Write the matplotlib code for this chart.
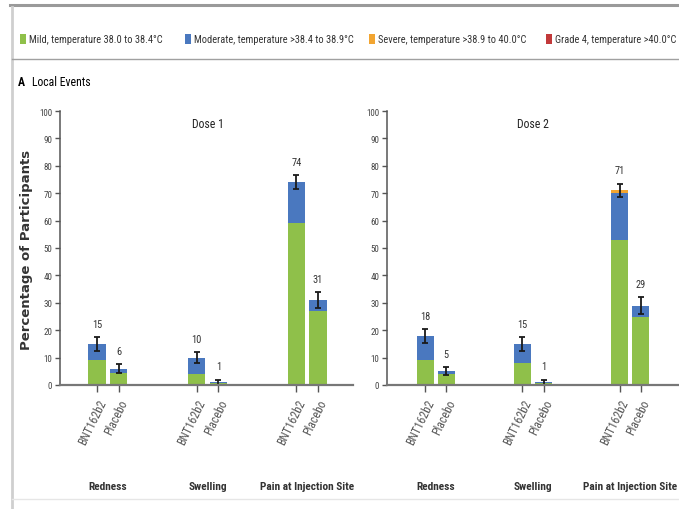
import matplotlib
matplotlib.use("Agg")
import matplotlib.pyplot as plt
from matplotlib import font_manager
from matplotlib.patches import Rectangle
from matplotlib.lines import Line2D
import numpy as np

# ---- data -------------------------------------------------------------
categories = ["Redness", "Swelling", "Pain at Injection Site"]
groups = ["BNT162b2", "Placebo"]
doses = ["Dose 1", "Dose 2"]

# order per dose: Redness (BNT, Placebo), Swelling (BNT, Placebo), Pain (BNT, Placebo)
dose1_mild = [9, 4.5, 4, 0.6, 59, 27]
dose1_moderate = [6, 1.5, 6, 0.4, 15, 4]
dose1_severe = [0, 0, 0, 0, 0, 0]
dose1_grade4 = [0, 0, 0, 0, 0, 0]
dose1_err = [2.5, 1.5, 2.0, 1.0, 2.5, 3.0]
dose1_labels = [15, 6, 10, 1, 74, 31]

dose2_mild = [9, 4, 8, 0.6, 53, 25]
dose2_moderate = [9, 1, 7, 0.4, 17, 4]
dose2_severe = [0, 0, 0, 0, 1, 0]
dose2_grade4 = [0, 0, 0, 0, 0, 0]
dose2_err = [2.5, 1.5, 2.5, 1.0, 2.5, 3.0]
dose2_labels = [18, 5, 15, 1, 71, 29]

legend_labels = [
    "Mild, temperature 38.0 to 38.4\u00b0C",
    "Moderate, temperature >38.4 to 38.9\u00b0C",
    "Severe, temperature >38.9 to 40.0\u00b0C",
    "Grade 4, temperature >40.0\u00b0C",
]
colors = ["#8fc04a", "#4a78bf", "#f2a531", "#c2393a"]


# ---- fonts: prefer a narrow sans face ---------------------------------
def pick_narrow_font():
    entries = font_manager.fontManager.ttflist
    names = {f.name for f in entries}
    for pref in ["Roboto Condensed", "Liberation Sans Narrow", "DejaVu Sans Condensed",
                 "Open Sans Condensed", "Noto Sans Condensed"]:
        if pref in names:
            return pref, "normal"
    for fam in ["Roboto", "Noto Sans", "Open Sans", "DejaVu Sans"]:
        for f in entries:
            if f.name == fam and f.stretch in ("condensed", "semi-condensed",
                                                "extra-condensed", 75, 87.5, 62.5):
                return fam, f.stretch
    return "Roboto" if "Roboto" in names else "DejaVu Sans", "normal"


font_name, font_stretch = pick_narrow_font()
plt.rcParams["font.family"] = [font_name, "DejaVu Sans"]
plt.rcParams["font.stretch"] = font_stretch

W, H = 679, 510
fig = plt.figure(figsize=(W / 100, H / 100), dpi=100)


def fx(px):
    return px / W


def fy(py):
    return 1 - py / H


# frame lines
fig.add_artist(Line2D([fx(10), 1], [fy(6), fy(6)], color="#9a9a9a", lw=2.2))
fig.add_artist(Line2D([fx(12), fx(12)], [fy(8), 0], color="#cfcfcf", lw=2.0))
fig.add_artist(Line2D([fx(12), 1], [fy(60), fy(60)], color="#a0a0a0", lw=1.0))
fig.add_artist(Line2D([fx(12), 1], [fy(500), fy(500)], color="#e6e6e6", lw=1.0))

# legend row: swatch + label for each severity level
legend_x = [20, 185, 369, 546]
for x0, col, lab in zip(legend_x, colors, legend_labels):
    fig.add_artist(Rectangle((fx(x0), fy(45)), fx(6), 10 / H, transform=fig.transFigure,
                             facecolor=col, edgecolor="none"))
    fig.text(fx(x0 + 9), fy(40), lab, fontsize=7.5, va="center", ha="left", color="#333333")

# panel label
fig.text(fx(18), fy(82), "A", fontsize=8.5, fontweight="bold", va="center", ha="left")
fig.text(fx(32), fy(82), "Local Events", fontsize=8.5, va="center", ha="left")

# y-axis label
fig.text(fx(27), fy(250), "Percentage of Participants", rotation=90, fontsize=9.5,
         fontweight="bold", ha="center", va="center", color="#333333",
         family=["DejaVu Sans"])

panels = [
    (dict(left=fx(60), right=fx(353)), (-0.48, 2.46), doses[0],
     dose1_mild, dose1_moderate, dose1_severe, dose1_grade4, dose1_err, dose1_labels),
    (dict(left=fx(387), right=fx(679)), (-0.5, 2.5), doses[1],
     dose2_mild, dose2_moderate, dose2_severe, dose2_grade4, dose2_err, dose2_labels),
]

bottom_f = fy(386)
top_f = fy(112)
offset = 0.108
width = 0.175

for pos, xlim, title, mild, moderate, severe, grade4, err, labels in panels:
    ax = fig.add_axes([pos["left"], bottom_f, pos["right"] - pos["left"], top_f - bottom_f])
    centers = np.arange(len(categories))
    xs = np.ravel(np.column_stack([centers - offset, centers + offset]))
    layers = [np.array(mild, float), np.array(moderate, float),
              np.array(severe, float), np.array(grade4, float)]
    base = np.zeros(len(xs))
    for vals, col in zip(layers, colors):
        ax.bar(xs, vals, width=width, bottom=base, color=col, edgecolor="none", zorder=2)
        base = base + vals
    totals = np.array(labels, float)
    ax.errorbar(xs, totals, yerr=err, fmt="none", ecolor="#1a1a1a", elinewidth=1.3,
                capsize=2.5, capthick=1.3, zorder=3)
    for x, t, e, lab in zip(xs, totals, err, labels):
        ax.text(x, t + e + 3.0, str(lab), ha="center", va="bottom", fontsize=7.5,
                color="#333333")

    ax.set_xlim(*xlim)
    ax.set_ylim(0, 100)
    ax.set_yticks(np.arange(0, 101, 10))
    ax.set_yticklabels([str(v) for v in range(0, 101, 10)], fontsize=6.5, color="#444444")
    ax.set_xticks(xs)
    ax.set_xticklabels(groups * len(categories), rotation=64, ha="right",
                       rotation_mode="anchor", fontsize=8.5, color="#555555")
    ax.tick_params(axis="both", direction="out", length=3.5, width=1.0, colors="#555555",
                   labelcolor="#444444", pad=2)
    ax.tick_params(axis="x", length=5, pad=4, labelcolor="#555555")
    for s in ["top", "right"]:
        ax.spines[s].set_visible(False)
    ax.spines["left"].set_color("#555555")
    ax.spines["bottom"].set_color("#777777")
    ax.spines["left"].set_linewidth(1.1)
    ax.spines["bottom"].set_linewidth(1.6)
    ax.spines["bottom"].set_zorder(4)
    ax.set_facecolor("none")

    ax.text(centers[1], 95.3, title, ha="center", va="center", fontsize=8.5, color="#222222")
    for c, name in zip(centers, categories):
        ax.text(c, -(487 - 386) / 274 * 100, name, ha="center", va="center",
                fontsize=8.2, fontweight="bold", color="#333333", clip_on=False)

fig.savefig("out.png", dpi=100)
